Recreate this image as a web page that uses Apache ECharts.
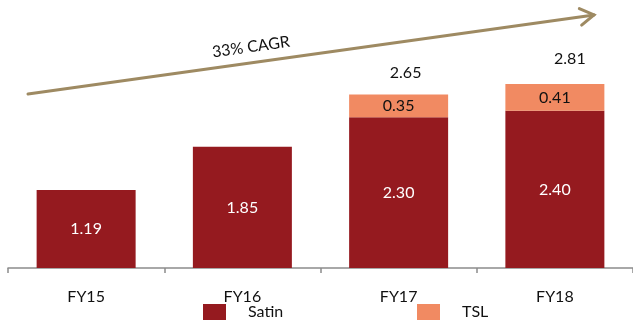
<!DOCTYPE html>
<html>
<head>
<meta charset="utf-8">
<script src="https://cdn.jsdelivr.net/npm/echarts@6/dist/echarts.min.js"></script>
<style>
html,body{margin:0;padding:0;background:#fff;}
#chart{width:633px;height:322px;}
</style>
</head>
<body>
<div id="chart"></div>
<script>
const categories = ['FY15', 'FY16', 'FY17', 'FY18'];
const satinValues = [1.19, 1.85, 2.30, 2.40];
const tslValues = [null, null, 0.35, 0.41];
const totalValues = [null, null, 2.65, 2.81];
const cagrText = '33% CAGR';

const FONT = 'Lato, "Liberation Sans", sans-serif';
const FS = 16;
const SATIN = '#951a1f';
const TSL = '#f18a62';
const totalOffsets = [[0, 0], [0, 0], [7, -22], [15, -25]];

const chart = echarts.init(document.getElementById('chart'), null, {renderer: 'canvas'});

// arrow geometry (annotation)
const ax0 = 28, ay0 = 94, ax1 = 594, ay1 = 15;
const ang = Math.atan2(ay1 - ay0, ax1 - ax0);
const headLen = 16, headAng = 0.55;
const h1 = [ax1 - headLen * Math.cos(ang - headAng), ay1 - headLen * Math.sin(ang - headAng)];
const h2 = [ax1 - headLen * Math.cos(ang + headAng), ay1 - headLen * Math.sin(ang + headAng)];

chart.setOption({
  animation: false,
  textStyle: {fontFamily: FONT},
  grid: {left: 8, top: 6, width: 631, bottom: 54, containLabel: false},
  xAxis: {
    type: 'category',
    data: categories,
    boundaryGap: true,
    axisLine: {show: true, lineStyle: {color: '#8c8c8c', width: 1.5}},
    axisTick: {show: true, alignWithLabel: false, length: 5, lineStyle: {color: '#8c8c8c', width: 1.5}},
    axisLabel: {color: '#111', fontSize: FS, fontFamily: FONT, margin: 21}
  },
  yAxis: {
    type: 'value', min: 0, max: 4, show: false,
    splitLine: {show: false}
  },
  legend: [
    {
      data: ['Satin'], left: 203, top: 304, padding: 0,
      itemWidth: 23, itemHeight: 16, icon: 'rect',
      textStyle: {fontSize: FS, color: '#111', fontFamily: FONT, padding: [0, 0, 0, 17]}
    },
    {
      data: ['TSL'], left: 417, top: 304, padding: 0,
      itemWidth: 23, itemHeight: 16, icon: 'rect',
      textStyle: {fontSize: FS, color: '#111', fontFamily: FONT, padding: [0, 0, 0, 17]}
    }
  ],
  series: [
    {
      name: 'Satin', type: 'bar', stack: 'total', data: satinValues,
      barWidth: 99, itemStyle: {color: SATIN},
      label: {show: true, position: 'inside', color: '#fff', fontSize: FS, fontFamily: FONT,
        formatter: p => p.value == null ? '' : p.value.toFixed(2)}
    },
    {
      name: 'TSL', type: 'bar', stack: 'total', data: tslValues,
      barWidth: 99, itemStyle: {color: TSL},
      label: {show: true, position: 'inside', color: '#111', fontSize: FS, fontFamily: FONT,
        formatter: p => p.value == null ? '' : p.value.toFixed(2)}
    },
    {
      name: 'Total', type: 'scatter', symbolSize: 1, silent: true,
      itemStyle: {color: 'rgba(0,0,0,0)', opacity: 1},
      data: totalValues.map((v, i) => ({
        value: v,
        label: {offset: totalOffsets[i]}
      })),
      label: {show: true, position: 'inside', color: '#111', opacity: 1, fontSize: FS, fontFamily: FONT,
        formatter: p => p.value == null ? '' : Number(p.value).toFixed(2)}
    }
  ],
  graphic: [
    {
      type: 'line', silent: true,
      shape: {x1: ax0, y1: ay0, x2: ax1, y2: ay1},
      style: {stroke: '#9e8a62', lineWidth: 3, lineCap: 'round'}
    },
    {
      type: 'polyline', silent: true,
      shape: {points: [h1, [ax1, ay1], h2]},
      style: {stroke: '#9e8a62', lineWidth: 3, fill: null, lineJoin: 'miter', lineCap: 'round'}
    },
    {
      type: 'text', silent: true,
      x: 251, y: 47, rotation: -ang,
      style: {text: cagrText, fill: '#111', fontSize: FS, fontFamily: FONT,
        textAlign: 'center', textVerticalAlign: 'middle'}
    }
  ]
});
</script>
</body>
</html>
